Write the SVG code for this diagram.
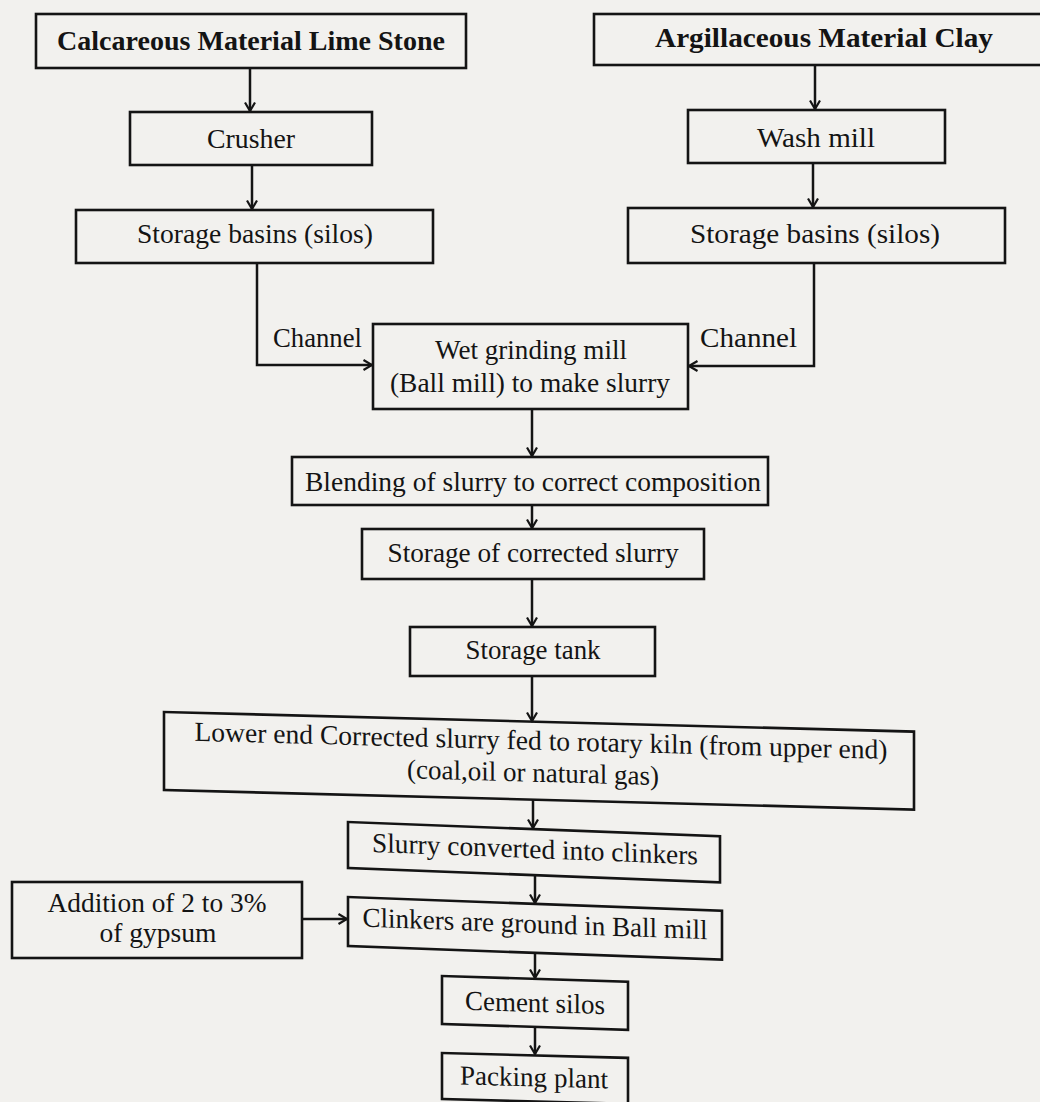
<svg xmlns="http://www.w3.org/2000/svg" width="1040" height="1102" viewBox="0 0 1040 1102">
<style>
.bg{fill:#f2f1ee}
.box{fill:none;stroke:#141414;stroke-width:2.6}
.t{font-family:"Liberation Serif","Times New Roman",serif;font-size:27.5px;fill:#141414;text-anchor:middle}
.b{font-weight:bold;font-size:28px}
.l{text-anchor:start}
.c{fill:none;stroke:#141414;stroke-width:2.5}
</style>
<defs>
<marker id="ah" viewBox="0 0 12 12" refX="10.5" refY="6" markerWidth="12" markerHeight="12" markerUnits="userSpaceOnUse" orient="auto">
<path d="M2,1 L10.5,6 L2,11" fill="none" stroke="#141414" stroke-width="2.2"/>
</marker>
</defs>
<rect class="bg" x="0" y="0" width="1040" height="1102"/>

<g id="connectors">
<path class="c" d="M250,68 V111" marker-end="url(#ah)"/>
<path class="c" d="M252,165 V209" marker-end="url(#ah)"/>
<path class="c" d="M815,65 V109" marker-end="url(#ah)"/>
<path class="c" d="M813,163 V207" marker-end="url(#ah)"/>
<path class="c" d="M257,263 V365 H372" marker-end="url(#ah)"/>
<path class="c" d="M814,263 V366 H689" marker-end="url(#ah)"/>
<path class="c" d="M532,409 V456" marker-end="url(#ah)"/>
<path class="c" d="M532,505 V528" marker-end="url(#ah)"/>
<path class="c" d="M532,579 V626" marker-end="url(#ah)"/>
<path class="c" d="M532,676 V721" marker-end="url(#ah)"/>
<path class="c" d="M533,800 V828" marker-end="url(#ah)"/>
<path class="c" d="M535,875 V903" marker-end="url(#ah)"/>
<path class="c" d="M302,919 H347" marker-end="url(#ah)"/>
<path class="c" d="M535,953 V978" marker-end="url(#ah)"/>
<path class="c" d="M535,1027 V1054" marker-end="url(#ah)"/>
<text class="t l" x="273" y="347" textLength="89" lengthAdjust="spacingAndGlyphs">Channel</text>
<text class="t l" x="700" y="347" textLength="97" lengthAdjust="spacingAndGlyphs">Channel</text>
</g>

<g id="calcareous"><rect class="box" x="36" y="14" width="430" height="54"/><text class="t b" x="251" y="50" textLength="388" lengthAdjust="spacingAndGlyphs">Calcareous Material Lime Stone</text></g>
<g id="argillaceous"><rect class="box" x="594" y="14" width="450" height="51"/><text class="t b" x="824" y="47" textLength="338" lengthAdjust="spacingAndGlyphs">Argillaceous Material Clay</text></g>
<g id="crusher"><rect class="box" x="130" y="112" width="242" height="53"/><text class="t" x="251" y="148" textLength="88" lengthAdjust="spacingAndGlyphs">Crusher</text></g>
<g id="washmill"><rect class="box" x="688" y="110" width="257" height="53"/><text class="t" x="816" y="147" textLength="118" lengthAdjust="spacingAndGlyphs">Wash mill</text></g>
<g id="storage-left"><rect class="box" x="76" y="210" width="357" height="53"/><text class="t" x="255" y="243" textLength="236" lengthAdjust="spacingAndGlyphs">Storage basins (silos)</text></g>
<g id="storage-right"><rect class="box" x="628" y="208" width="377" height="55"/><text class="t" x="815" y="243" textLength="250" lengthAdjust="spacingAndGlyphs">Storage basins (silos)</text></g>
<g id="wetmill"><rect class="box" x="373" y="324" width="315" height="85"/><text class="t" x="531" y="359" textLength="192" lengthAdjust="spacingAndGlyphs">Wet grinding mill</text><text class="t" x="530" y="392" textLength="280" lengthAdjust="spacingAndGlyphs">(Ball mill) to make slurry</text></g>
<g id="blending"><rect class="box" x="292" y="457" width="476" height="48"/><text class="t" x="533" y="491" textLength="456" lengthAdjust="spacingAndGlyphs">Blending of slurry to correct composition</text></g>
<g id="corrected"><rect class="box" x="362" y="529" width="342" height="50"/><text class="t" x="533" y="562" textLength="291" lengthAdjust="spacingAndGlyphs">Storage of corrected slurry</text></g>
<g id="tank"><rect class="box" x="410" y="627" width="245" height="49"/><text class="t" x="533" y="659" textLength="135" lengthAdjust="spacingAndGlyphs">Storage tank</text></g>
<g id="kiln" transform="translate(164,0) skewY(1.5) translate(-164,0)"><rect class="box" x="164" y="712" width="750" height="78"/><text class="t" x="541" y="740" textLength="693" lengthAdjust="spacingAndGlyphs">Lower end Corrected slurry fed to rotary kiln (from upper end)</text><text class="t" x="533" y="772" textLength="252" lengthAdjust="spacingAndGlyphs">(coal,oil or natural gas)</text></g>
<g id="clinkers" transform="translate(348,0) skewY(2.2) translate(-348,0)"><rect class="box" x="348" y="822" width="372" height="46"/><text class="t" x="535" y="851" textLength="326" lengthAdjust="spacingAndGlyphs">Slurry converted into clinkers</text></g>
<g id="ballmill" transform="translate(348,0) skewY(2.1) translate(-348,0)"><rect class="box" x="348" y="897" width="374" height="49"/><text class="t" x="535" y="926" textLength="345" lengthAdjust="spacingAndGlyphs">Clinkers are ground in Ball mill</text></g>
<g id="gypsum"><rect class="box" x="12" y="882" width="290" height="76"/><text class="t" x="157" y="912" textLength="219" lengthAdjust="spacingAndGlyphs">Addition of 2 to 3%</text><text class="t" x="158" y="942" textLength="117" lengthAdjust="spacingAndGlyphs">of gypsum</text></g>
<g id="cementsilos" transform="translate(442,0) skewY(1.8) translate(-442,0)"><rect class="box" x="442" y="976" width="186" height="48"/><text class="t" x="535" y="1009" textLength="140" lengthAdjust="spacingAndGlyphs">Cement silos</text></g>
<g id="packing" transform="translate(442,0) skewY(1.5) translate(-442,0)"><rect class="box" x="442" y="1053" width="186" height="46"/><text class="t" x="534" y="1084" textLength="148" lengthAdjust="spacingAndGlyphs">Packing plant</text></g>
</svg>
